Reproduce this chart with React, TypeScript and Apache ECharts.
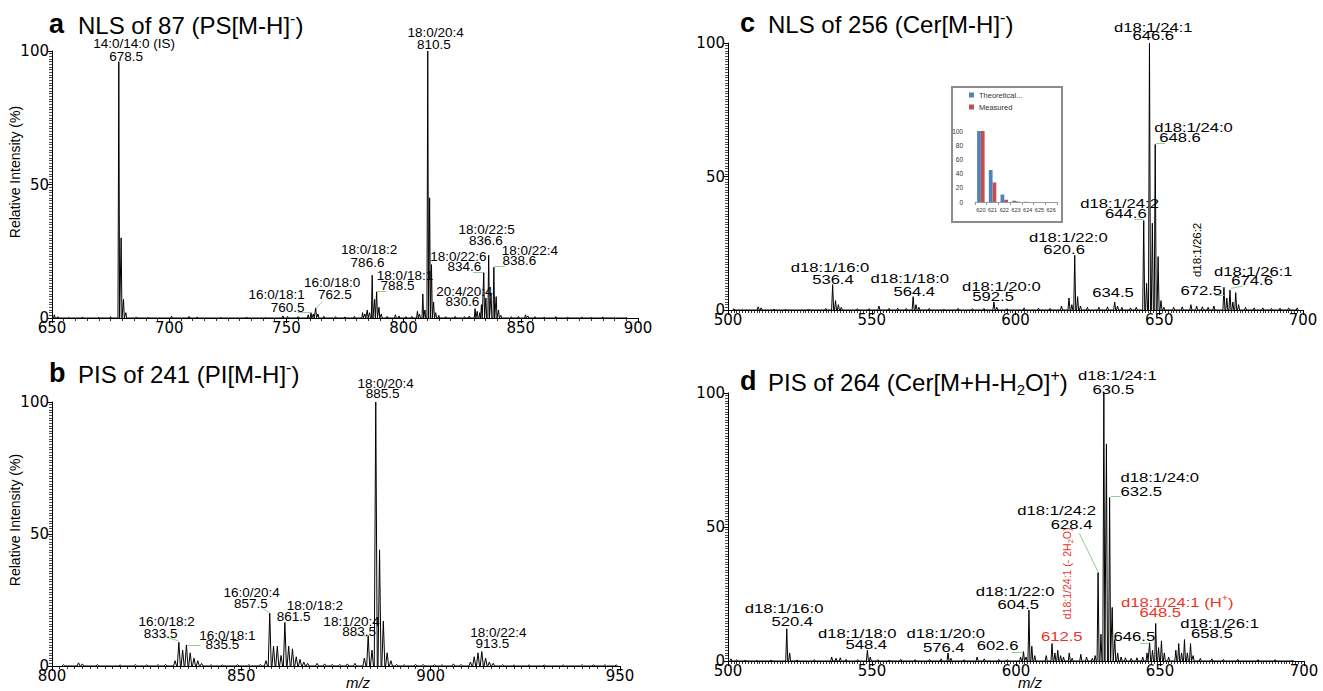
import React, { useEffect, useRef } from 'react';
import * as echarts from 'echarts';

// ---------- DATA ----------
// Panel a: NLS of 87 (PS[M-H]-)  [m/z, relative intensity %]
const peaksA: number[][] = [
  [651, 1.2], [652.5, 0.5], [657, 0.3], [663, 0.4], [670, 0.3], [675, 0.5],
  [678.5, 96], [679.5, 30], [680.5, 7], [681.5, 2],
  [686, 0.4], [691, 0.3], [701, 0.7], [708.5, 0.6], [712, 0.4], [722, 0.3], [733, 0.4], [741, 0.3],
  [748.5, 0.8], [750.5, 0.6], [755, 0.5],
  [759.3, 1.2], [760.5, 2], [761.5, 1.5], [762.5, 3.8], [763.5, 1.5], [766, 0.6], [771, 0.5], [775, 0.4], [779, 0.6],
  [782.5, 2], [783.5, 1.5], [784.5, 3], [785.5, 2], [786.6, 16], [787.6, 7], [788.5, 10], [789.5, 4], [790.5, 1.5],
  [793, 0.6], [796.5, 1.2], [798, 0.8], [801, 0.5], [803.5, 0.6],
  [805.9, 2.5], [806.8, 1.5], [808.2, 9], [809.1, 3], [810.3, 100], [811.1, 45], [811.9, 20], [812.8, 6], [813.7, 2], [815, 1],
  [818, 0.5], [822, 0.6], [826, 0.5], [828, 0.7],
  [830.5, 3.5], [831.4, 2.5], [832.5, 2], [833.2, 5], [834.2, 17], [835.1, 7.5], [836.3, 23.5], [837.3, 9], [838.5, 19],
  [839.5, 8], [840.5, 3], [841.5, 1],
  [846, 0.5], [849, 0.6], [852, 1.2], [853, 0.8], [856, 0.5], [860, 0.4], [865, 0.5], [870, 0.4], [876, 0.4],
  [880, 0.3], [885, 0.4], [890, 0.3], [895, 0.3],
];

// Panel b: PIS of 241 (PI[M-H]-)
const peaksB: number[][] = [
  [803, 0.5], [807, 1.2], [808, 0.8], [812, 0.5], [818, 0.4], [822, 0.5], [825, 0.4], [828, 0.5], [830, 0.6],
  [832.5, 2], [833.5, 9], [834.5, 6], [835.5, 8], [836.5, 5], [837.5, 3], [838.5, 2], [839.5, 1],
  [842, 0.5], [845, 0.4], [849, 0.5], [852, 0.5], [855, 0.6],
  [856.5, 2], [857.5, 20], [858.5, 7.5], [859.5, 7.5], [860.5, 4], [861.5, 16.5], [862.5, 7.5], [863.5, 6.5],
  [864.5, 3.5], [865.5, 2.5], [866.5, 1.5], [867.5, 1],
  [870, 1], [872, 0.8], [874, 0.6], [876, 0.6], [878, 0.8], [880, 1],
  [882.5, 3], [883.5, 11.5], [884.5, 6], [885.5, 100], [886.5, 44], [887.5, 17], [888.5, 5], [889.5, 2],
  [891, 0.6], [893, 0.5], [896, 0.6], [898, 0.6], [901, 0.5], [903, 0.5], [906, 0.8], [908, 0.6],
  [910.5, 1.5], [911.5, 3.5], [912.5, 5], [913.5, 5.5], [914.5, 3], [915.5, 1.5], [916.5, 1],
  [919, 0.5], [922, 0.4], [926, 0.4], [930, 0.4], [935, 0.4], [940, 0.5], [943, 0.4], [946, 0.5], [949, 0.4],
];

// Panel c: NLS of 256 (Cer[M-H]-)
const peaksC: number[][] = [
  [502, 0.5], [505, 0.3], [510.5, 1.2], [511.5, 0.8], [516, 0.3], [520, 0.4], [528, 0.4], [534, 0.6],
  [536.4, 9.5], [537.4, 3.5], [538.4, 2], [539.4, 1],
  [545, 0.5], [549, 0.5], [552.5, 1.5], [556, 0.6], [559, 0.7], [562, 0.6],
  [564.4, 5], [565.4, 2], [566.4, 1],
  [570, 0.6], [575, 0.4], [580, 0.6], [585, 0.5], [589, 0.6],
  [592.5, 3], [593.5, 1],
  [597, 0.5], [603, 0.8], [608, 0.7], [612, 0.6], [616, 1.5],
  [618.6, 4.5], [619.6, 2], [620.6, 20.5], [621.6, 5], [622.6, 1.5],
  [625, 1], [629, 1], [632, 1.2], [634.5, 3], [635.5, 1.5], [637, 1], [640, 0.8], [642, 1],
  [644.6, 33.5], [645.6, 10], [646.6, 100], [647.6, 32.5], [648.6, 62], [649.6, 20], [650.6, 3.5], [651.6, 1],
  [655, 1], [658, 1.2], [661, 2], [663, 1.5], [665, 1.2], [667, 1], [669, 1.5],
  [672.5, 8.5], [673.5, 4.5], [674.6, 7.5], [675.6, 3], [676.6, 6.5], [677.6, 2],
  [680, 1], [683, 0.8], [686, 0.8], [689, 0.6], [692, 0.7], [695, 0.8], [698, 0.8],
];

// Panel d: PIS of 264 (Cer[M+H-H2O]+)
const peaksD: number[][] = [
  [501, 0.8], [503, 0.5], [506, 0.4], [510, 0.3], [515, 0.4],
  [520.4, 12], [521.4, 3],
  [524, 0.4], [530, 0.5], [536, 1.5], [537.5, 1], [539, 1.2], [541, 0.6], [545, 0.5],
  [548.4, 4], [549.4, 1.5],
  [552, 0.5], [556, 0.4], [560, 0.6], [565, 0.5], [570, 0.6], [574, 0.8],
  [576.4, 3], [577.4, 1],
  [582, 0.5], [586.5, 1.5], [589, 0.8], [594, 0.6], [597, 0.5], [601.6, 1.5],
  [602.6, 3.5], [603.5, 1.5], [604.5, 19], [605.5, 5.5], [606.5, 2],
  [610.5, 2], [612.5, 6.5], [613.5, 3], [614.5, 4], [615.5, 2], [616.5, 1.5], [618.5, 3], [619.5, 1],
  [622.5, 2.5], [624.5, 1.5], [626.5, 1], [627.5, 2],
  [628.5, 33], [629.5, 10], [630.5, 100], [631.4, 81], [632.5, 61], [633.4, 20], [634.3, 8], [635.3, 3],
  [636.5, 1.5], [638, 1.2], [640, 1], [642, 1.2], [644, 1.5],
  [645.5, 3], [646.4, 6.8], [647.4, 4], [648.5, 14], [649.5, 5], [650.5, 7.5], [651.5, 3], [653, 1.5],
  [655.5, 4], [656.5, 6.5], [657.5, 3], [658.5, 8], [659.5, 3], [660.6, 6.5], [661.5, 2],
  [664, 1], [668, 0.8], [672, 0.6], [677, 0.6], [684, 0.5], [690, 0.5], [696, 0.4],
];

// Peak annotations: [m/z, intensity, text]
const labelsA: [number, number, string][] = [
  [685.0, 102.9, '14:0/14:0 (IS)'], [681.6, 97.9, '678.5'],
  [813.7, 107.0, '18:0/20:4'], [812.9, 102.6, '810.5'],
  [769.5, 13.4, '16:0/18:0'], [745.8, 8.9, '16:0/18:1'], [770.7, 8.9, '762.5'], [750.5, 4.1, '760.5'],
  [785.3, 25.5, '18:0/18:2'], [784.6, 20.7, '786.6'],
  [800.6, 16.1, '18:0/18:1'], [797.4, 12.0, '788.5'],
  [823.4, 23.2, '18:0/22:6'], [825.9, 19.2, '834.6'],
  [835.4, 33.0, '18:0/22:5'], [835.1, 29.2, '836.6'],
  [853.9, 25.2, '18:0/22:4'], [849.4, 21.5, '838.6'],
  [825.9, 9.9, '20:4/20:4'], [825.1, 6.0, '830.6'],
];
const labelsB: [number, number, string][] = [
  [830.3, 16.8, '16:0/18:2'], [828.7, 12.4, '833.5'],
  [846.3, 11.4, '16:0/18:1'], [845.0, 8.3, '835.5'],
  [852.7, 27.9, '16:0/20:4'], [852.5, 23.5, '857.5'],
  [869.4, 23.1, '18:0/18:2'], [863.8, 18.9, '861.5'],
  [879.1, 16.8, '18:1/20:4'], [881.1, 13.0, '883.5'],
  [888.1, 107.0, '18:0/20:4'], [887.3, 103.2, '885.5'],
  [917.9, 12.6, '18:0/22:4'], [916.3, 8.6, '913.5'],
];
const labelsC: [number, number, string][] = [
  [647.9, 106.1, 'd18:1/24:1'], [647.9, 103.0, '646.6'],
  [661.9, 68.4, 'd18:1/24:0'], [657.2, 64.7, '648.6'],
  [636.2, 40.0, 'd18:1/24:2'], [638.4, 36.2, '644.6'],
  [618.4, 27.2, 'd18:1/22:0'], [616.9, 22.7, '620.6'],
  [633.9, 6.6, '634.5'],
  [664.6, 7.5, '672.5'],
  [682.7, 14.7, 'd18:1/26:1'], [682.3, 11.0, '674.6'],
  [595.1, 9.0, 'd18:1/20:0'], [592.2, 5.2, '592.5'],
  [563.2, 11.9, 'd18:1/18:0'], [564.8, 7.2, '564.4'],
  [535.5, 16.2, 'd18:1/16:0'], [536.5, 11.5, '536.4'],
];
const vLabelsC: [number, number, string][] = [[663.3, 22.5, 'd18:1/26:2']];
const labelsD: [number, number, string][] = [
  [519.5, 19.7, 'd18:1/16:0'], [522.3, 14.7, '520.4'],
  [544.9, 10.3, 'd18:1/18:0'], [548.0, 6.3, '548.4'],
  [575.6, 10.3, 'd18:1/20:0'], [574.9, 5.1, '576.4'],
  [593.6, 6.0, '602.6'],
  [599.7, 26.2, 'd18:1/22:0'], [600.8, 21.3, '604.5'],
  [614.1, 56.3, 'd18:1/24:2'], [619.3, 51.1, '628.4'],
  [635.2, 106.7, 'd18:1/24:1'], [633.8, 101.4, '630.5'],
  [649.9, 68.5, 'd18:1/24:0'], [643.5, 63.5, '632.5'],
  [641.1, 9.3, '646.5'],
  [670.7, 14.1, 'd18:1/26:1'], [668.0, 10.3, '658.5'],
];
const redLabelsD: [number, number, string][] = [
  [615.9, 9.3, '{r|612.5}'],
  [656.0, 22.1, '{r|d18:1/24:1 (H}{rsup|+}{r|)}'],
  [650.1, 18.2, '{r|648.5}'],
];
const vLabelsD: [number, number, string][] = [[617.8, 32.7, '{vr|d18:1/24:1 (- 2H}{vrs|2}{vr|O)}']];

// Leader lines: [x1, y1, x2, y2] in m/z / intensity
const leadersA = [[754.8, 2, 760.3, 2], [762.6, 3.6, 765.4, 6.1], [788.2, 9.9, 792.7, 9.9], [829.7, 17.1, 834.0, 17.1], [838.7, 19.2, 843.3, 19.2]];
const leadersB = [[829.4, 11.4, 833.4, 9.5], [835.8, 7.9, 839.2, 7.9], [855.2, 22.4, 857.4, 20.2], [880.5, 11.7, 883.3, 11.3]];
const leadersC = [[641.3, 34.1, 644.5, 34.1], [648.9, 62.4, 652.0, 62.4], [669.4, 5.6, 672.6, 5.6], [674.9, 8.1, 679.2, 9.0]];
const leadersD = [[622.0, 47.6, 628.5, 33.3], [632.9, 61.6, 636.4, 61.6], [598.5, 3.2, 602.5, 3.2], [643.1, 6.8, 646.3, 6.8]];

// Inset (isotope distribution)
const insetCats = ['620', '621', '622', '623', '624', '625', '626'];
const theoretical = [100, 45, 10.5, 1.8, 0.3, 0, 0];
const measured = [100, 27.5, 3.2, 0.6, 0, 0, 0];

// ---------- STYLE ----------
const RED = '#e83428';
const GREEN = '#8fd08f';
const TICKFONT = 'DejaVu Sans';
const LFONT = 'Liberation Sans';

const stick = (peaks: number[][], w: number) =>
  peaks.slice().sort((a, b) => a[0] - b[0]).flatMap(([m, h]) => [[m - w, 0], [m, h], [m + w, 0]]);

const xAxisCfg = (gridIndex: number, min: number, max: number, minorSplit: number) => ({
  type: 'value', gridIndex, min, max, interval: 50,
  axisLine: { show: true, onZero: false, lineStyle: { color: '#000', width: 1 } },
  axisTick: { show: true, length: 5, lineStyle: { color: '#000', width: 1 } },
  minorTick: { show: true, splitNumber: minorSplit, length: 3, lineStyle: { color: '#000', width: 0.8 } },
  splitLine: { show: false }, minorSplitLine: { show: false },
  axisLabel: { color: '#000', fontFamily: TICKFONT, fontSize: 15, margin: 2 },
});
const yAxisCfg = (gridIndex: number) => ({
  type: 'value', gridIndex, min: 0, max: 100, interval: 50,
  axisLine: { show: true, lineStyle: { color: '#000', width: 1 } },
  axisTick: { show: true, length: 4, lineStyle: { color: '#000', width: 1 } },
  minorTick: { show: true, splitNumber: 50, length: 3, lineStyle: { color: '#000', width: 0.7 } },
  splitLine: { show: false }, minorSplitLine: { show: false },
  axisLabel: { color: '#000', fontFamily: TICKFONT, fontSize: 15, margin: 3 },
});

const spectrum = (i: number, peaks: number[][], w: number) => ({
  type: 'line', xAxisIndex: i, yAxisIndex: i, data: stick(peaks, w), symbol: 'none', showSymbol: false,
  lineStyle: { color: '#000', width: 1 }, silent: true, z: 3,
});
const leaderSeries = (i: number, segs: number[][]) => ({
  type: 'lines', coordinateSystem: 'cartesian2d', xAxisIndex: i, yAxisIndex: i, silent: true, z: 4,
  lineStyle: { color: GREEN, width: 1, opacity: 1 },
  data: segs.map(([x1, y1, x2, y2]) => ({ coords: [[x1, y1], [x2, y2]] })),
});

const titleRich = {
  t: { fontSize: 24, fontFamily: LFONT, lineHeight: 30, verticalAlign: 'middle', fill: '#000' },
  sup: { fontSize: 16, fontFamily: LFONT, lineHeight: 30, verticalAlign: 'top', fill: '#000' },
  sub: { fontSize: 15, fontFamily: LFONT, lineHeight: 30, verticalAlign: 'bottom', fill: '#000' },
};
const labelRich = {
  r: { fill: RED, fontSize: 13, fontFamily: LFONT, lineHeight: 17, verticalAlign: 'middle' },
  rsup: { fill: RED, fontSize: 8.5, fontFamily: LFONT, lineHeight: 17, verticalAlign: 'top' },
  vr: { fill: RED, fontSize: 10.5, fontFamily: LFONT, lineHeight: 14, verticalAlign: 'middle' },
  vrs: { fill: RED, fontSize: 7.5, fontFamily: LFONT, lineHeight: 14, verticalAlign: 'bottom' },
};

const letter = (x: number, y: number, t: string) => ({
  type: 'text', x, y, z: 10,
  style: { text: t, fill: '#000', fontSize: 27, fontWeight: 'bold', fontFamily: LFONT, align: 'left', verticalAlign: 'middle', textAlign: 'left', textVerticalAlign: 'middle' },
});
const title = (x: number, y: number, t: string) => ({
  type: 'text', x, y, z: 10,
  style: { text: t, fill: '#000', rich: titleRich, align: 'left', verticalAlign: 'top', textAlign: 'left', textVerticalAlign: 'top' },
});
const plainText = (x: number, y: number, t: string, font: any, rotation = 0) => ({
  type: 'text', x, y, rotation, z: 10,
  style: { text: t, fill: '#000', align: 'center', verticalAlign: 'middle', textAlign: 'center', textVerticalAlign: 'middle', ...font },
});

const baseGraphics: any[] = [
  { type: 'rect', z: 1, shape: { x: 952, y: 87, width: 110, height: 135 }, style: { fill: '#fff', stroke: '#8c8c8c', lineWidth: 2 } },
  letter(49, 24, 'a'), title(78, 10, '{t|NLS of 87 (PS[M-H]}{sup|-}{t|)}'),
  letter(49, 373, 'b'), title(78, 359, '{t|PIS of 241 (PI[M-H]}{sup|-}{t|)}'),
  letter(740, 23, 'c'), title(768, 9, '{t|NLS of 256 (Cer[M-H]}{sup|-}{t|)}'),
  letter(740, 381, 'd'), title(768, 367, '{t|PIS of 264 (Cer[M+H-H}{sub|2}{t|O]}{sup|+}{t|)}'),
  plainText(15, 172, 'Relative Intensity (%)', { fontSize: 14, fontFamily: LFONT }, Math.PI / 2),
  plainText(15, 520, 'Relative Intensity (%)', { fontSize: 14, fontFamily: LFONT }, Math.PI / 2),
  plainText(358, 682, 'm/z', { fontSize: 15, fontFamily: LFONT, fontStyle: 'italic' }),
  plainText(1030, 682, 'm/z', { fontSize: 15, fontFamily: LFONT, fontStyle: 'italic' }),
];

// label groups: grid index, labels, font, horizontal stretch, rotation
const labelGroups: any[] = [
  { grid: 0, items: labelsA, fontSize: 13.5, scaleX: 1, rotation: 0 },
  { grid: 1, items: labelsB, fontSize: 13.5, scaleX: 1, rotation: 0 },
  { grid: 2, items: labelsC, fontSize: 13, scaleX: 1.28, rotation: 0 },
  { grid: 2, items: vLabelsC, fontSize: 11.5, scaleX: 1, rotation: Math.PI / 2 },
  { grid: 3, items: labelsD, fontSize: 13, scaleX: 1.28, rotation: 0 },
  { grid: 3, items: redLabelsD, fontSize: 13, scaleX: 1.28, rotation: 0 },
  { grid: 3, items: vLabelsD, fontSize: 10.5, scaleX: 1, rotation: Math.PI / 2 },
];

const option: any = {
  animation: false,
  backgroundColor: '#fff',
  grid: [
    { left: 52, top: 51, width: 586, height: 267 },
    { left: 52, top: 402, width: 568, height: 264 },
    { left: 728, top: 43, width: 575, height: 267 },
    { left: 728, top: 393, width: 576, height: 268 },
    { left: 975, top: 131, width: 82, height: 71 },
  ],
  xAxis: [
    xAxisCfg(0, 650, 900, 10),
    xAxisCfg(1, 800, 950, 25),
    xAxisCfg(2, 500, 700, 50),
    xAxisCfg(3, 500, 700, 50),
    {
      type: 'category', gridIndex: 4, data: insetCats, z: 3,
      axisLine: { show: true, lineStyle: { color: '#999', width: 1 } },
      axisTick: { show: true, length: 3, lineStyle: { color: '#999' } },
      axisLabel: { fontSize: 5.5, fontFamily: LFONT, color: '#333', margin: 5, interval: 0 },
    },
  ],
  yAxis: [
    yAxisCfg(0), yAxisCfg(1), yAxisCfg(2), yAxisCfg(3),
    {
      type: 'value', gridIndex: 4, min: 0, max: 100, interval: 20, z: 3,
      axisLine: { show: false }, axisTick: { show: false }, splitLine: { show: false },
      axisLabel: { fontSize: 6.5, fontFamily: LFONT, color: '#333', margin: 12 },
    },
  ],
  legend: {
    data: ['Theoretical...', 'Measured'], orient: 'vertical', left: 969, top: 91, padding: 0,
    itemWidth: 5, itemHeight: 5, itemGap: 4, selectedMode: false, icon: 'rect',
    textStyle: { fontSize: 7.5, fontFamily: LFONT, color: '#333' },
  },
  graphic: { elements: baseGraphics },
  series: [
    spectrum(0, peaksA, 0.35), leaderSeries(0, leadersA),
    spectrum(1, peaksB, 0.4), leaderSeries(1, leadersB),
    spectrum(2, peaksC, 0.35), leaderSeries(2, leadersC),
    spectrum(3, peaksD, 0.35), leaderSeries(3, leadersD),
    {
      type: 'bar', name: 'Theoretical...', xAxisIndex: 4, yAxisIndex: 4, data: theoretical, z: 5,
      itemStyle: { color: '#4F81BD' }, barGap: '0%', barCategoryGap: '36%', silent: true,
    },
    {
      type: 'bar', name: 'Measured', xAxisIndex: 4, yAxisIndex: 4, data: measured, z: 5,
      itemStyle: { color: '#C0504D' }, barGap: '0%', barCategoryGap: '36%', silent: true,
    },
  ],
};

export default function App() {
  const ref = useRef<HTMLDivElement>(null);
  useEffect(() => {
    if (!ref.current) return;
    const chart = echarts.init(ref.current, null, { renderer: 'svg' });
    chart.setOption(option);
    // peak annotations placed through the axes' own scales
    const labelEls: any[] = [];
    for (const g of labelGroups) {
      for (const [x, y, t] of g.items) {
        const p = chart.convertToPixel({ gridIndex: g.grid } as any, [x, y]) as number[];
        labelEls.push({
          type: 'text', x: p[0], y: p[1], scaleX: g.scaleX, rotation: g.rotation, z: 20, silent: true,
          style: {
            text: t, fill: '#000', fontSize: g.fontSize, fontFamily: LFONT, rich: labelRich,
            align: 'center', verticalAlign: 'middle', textAlign: 'center', textVerticalAlign: 'middle',
          },
        });
      }
    }
    chart.setOption({ graphic: { elements: [...baseGraphics, ...labelEls] } });
    return () => chart.dispose();
  }, []);
  return <div ref={ref} style={{ position: 'fixed', left: 0, top: 0, width: 1323, height: 691 }} />;
}
